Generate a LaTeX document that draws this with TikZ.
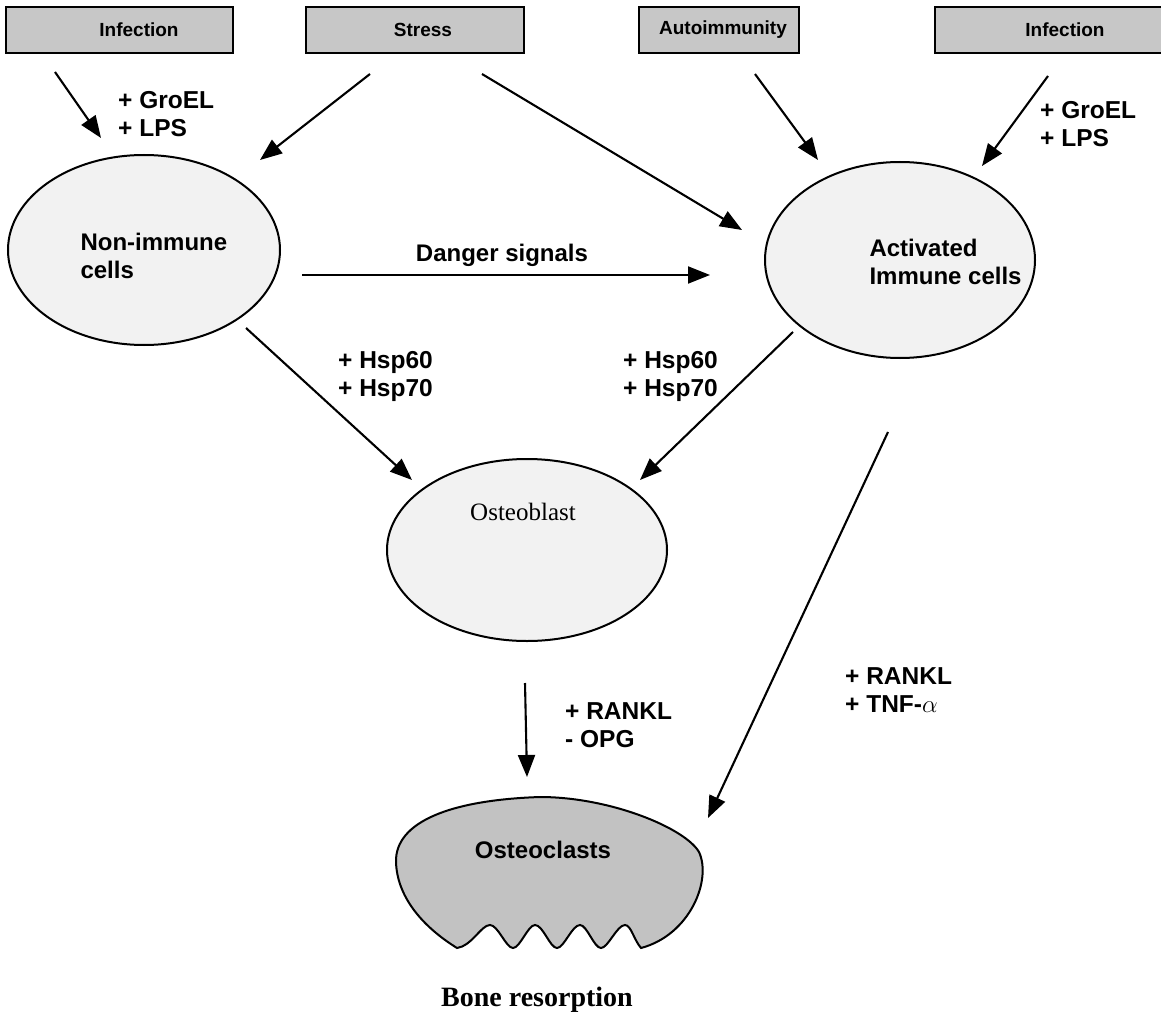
\documentclass[tikz,border=0pt]{standalone}
\usepackage{fontspec}
\setmainfont{Liberation Sans}
\newfontfamily\timesf{Liberation Serif}
\usetikzlibrary{shapes.geometric,arrows.meta}
\definecolor{boxgray}{gray}{0.78}
\definecolor{cellgray}{gray}{0.95}
\definecolor{clastgray}{gray}{0.76}
\begin{document}
\begin{tikzpicture}[x=1pt,y=-1pt,
  topbox/.style={draw,line width=1.8pt,fill=boxgray,minimum height=46pt,inner sep=0pt},
  boxtext/.style={font=\bfseries\fontsize{19}{22}\selectfont},
  celltext/.style={font=\bfseries\fontsize{24}{28}\selectfont,align=left},
  cell/.style={draw,ellipse,line width=2pt,fill=cellgray,inner sep=0pt},
  arr/.style={-{Triangle[length=22pt,width=17pt]},line width=2.1pt},
  lbl/.style={font=\bfseries\fontsize{24.5}{28}\selectfont,align=left,anchor=west,inner sep=0pt}
]
\useasboundingbox (0,0) rectangle (1161,1024);
\fill[white] (0,0) rectangle (1161,1024);

% top boxes
\node[topbox,minimum width=227pt] (inf1) at (119.5,30) {};
\node[boxtext] (inf1t) at (139,30) {Infection};
\node[topbox,minimum width=218pt] (stress) at (415,30) {};
\node[boxtext] (stresst) at (423,30) {Stress};
\node[topbox,minimum width=160pt] (auto) at (719,30) {};
\node[boxtext] (autot) at (723,30) {Autoimmunity};
\node[topbox,minimum width=228pt] (inf2) at (1049,30) {};
\node[boxtext] (inf2t) at (1065,30) {Infection};

% cells
\node[cell,minimum width=272pt,minimum height=190pt] (nonimm) at (144,250) {};
\node[celltext,anchor=west] (nonimmt) at (77,256) {Non-immune\\cells};
\node[cell,minimum width=270pt,minimum height=196pt] (act) at (900,260) {};
\node[celltext,anchor=west] (actt) at (866,262) {Activated\\Immune cells};
\node[cell,minimum width=280pt,minimum height=182pt] (oblast) at (527,550) {};
\node[font=\timesf\fontsize{25}{28}\selectfont] (oblastt) at (523,512) {Osteoblast};

% osteoclasts
\draw[line width=2pt,fill=clastgray]
  (457,948) .. controls (420,925) and (397,895) .. (396,862)
  .. controls (395,822) and (450,800) .. (540,797)
  .. controls (610,797) and (685,828) .. (699,852)
  .. controls (712,880) and (690,935) .. (641,948)
  .. controls (634,940) and (631,925) .. (625,925)
  .. controls (617,925) and (608,948) .. (601,948)
  .. controls (594,948) and (587,925) .. (580,925)
  .. controls (572,925) and (564,948) .. (557,948)
  .. controls (550,948) and (543,925) .. (535,925)
  .. controls (528,925) and (520,948) .. (513,948)
  .. controls (506,948) and (498,925) .. (490,925)
  .. controls (481,925) and (472,946) .. (457,948) -- cycle;
\node[celltext] (oclast) at (543,850) {Osteoclasts};
\node[font=\timesf\bfseries\fontsize{28}{30}\selectfont] (bone) at (537,1000) {Bone resorption};

% arrow end points
\coordinate (a1s) at (55,72);   \coordinate (a1e) at (101,138);
\coordinate (a2s) at (370,74);  \coordinate (a2e) at (260,160);
\coordinate (a3s) at (482,74);  \coordinate (a3e) at (742,230);
\coordinate (a4s) at (755,74);  \coordinate (a4e) at (818,160);
\coordinate (a5s) at (1048,76); \coordinate (a5e) at (982,166);
\coordinate (a6s) at (302,275); \coordinate (a6e) at (710,275);
\coordinate (a7s) at (246,328); \coordinate (a7e) at (412,480);
\coordinate (a8s) at (793,332); \coordinate (a8e) at (640,480);
\coordinate (a9s) at (888,432); \coordinate (a9e) at (708,818);
\coordinate (a10s) at (525,683);\coordinate (a10e) at (527,777);

\draw[arr] (a1s) -- (a1e);
\draw[arr] (a2s) -- (a2e);
\draw[arr] (a3s) -- (a3e);
\draw[arr] (a4s) -- (a4e);
\draw[arr] (a5s) -- (a5e);
\draw[arr] (a6s) -- (a6e);
\draw[arr] (a7s) -- (a7e);
\draw[arr] (a8s) -- (a8e);
\draw[arr] (a9s) -- (a9e);
\draw[arr] (a10s) -- (a10e);

% labels
\node[lbl] (l1) at (118,114) {+ GroEL\\+ LPS};
\node[lbl] (l2) at (1040,124) {+ GroEL\\+ LPS};
\node[celltext] (l3) at (502,255) {Danger signals};
\node[lbl] (l4) at (338,376) {+ Hsp60\\+ Hsp70};
\node[lbl] (l5) at (623,376) {+ Hsp60\\+ Hsp70};
\node[lbl] (l6) at (845,690) {+ RANKL\\+ TNF-$\alpha$};
\node[lbl] (l7) at (565,725) {+ RANKL\\- OPG};
\end{tikzpicture}
\end{document}
